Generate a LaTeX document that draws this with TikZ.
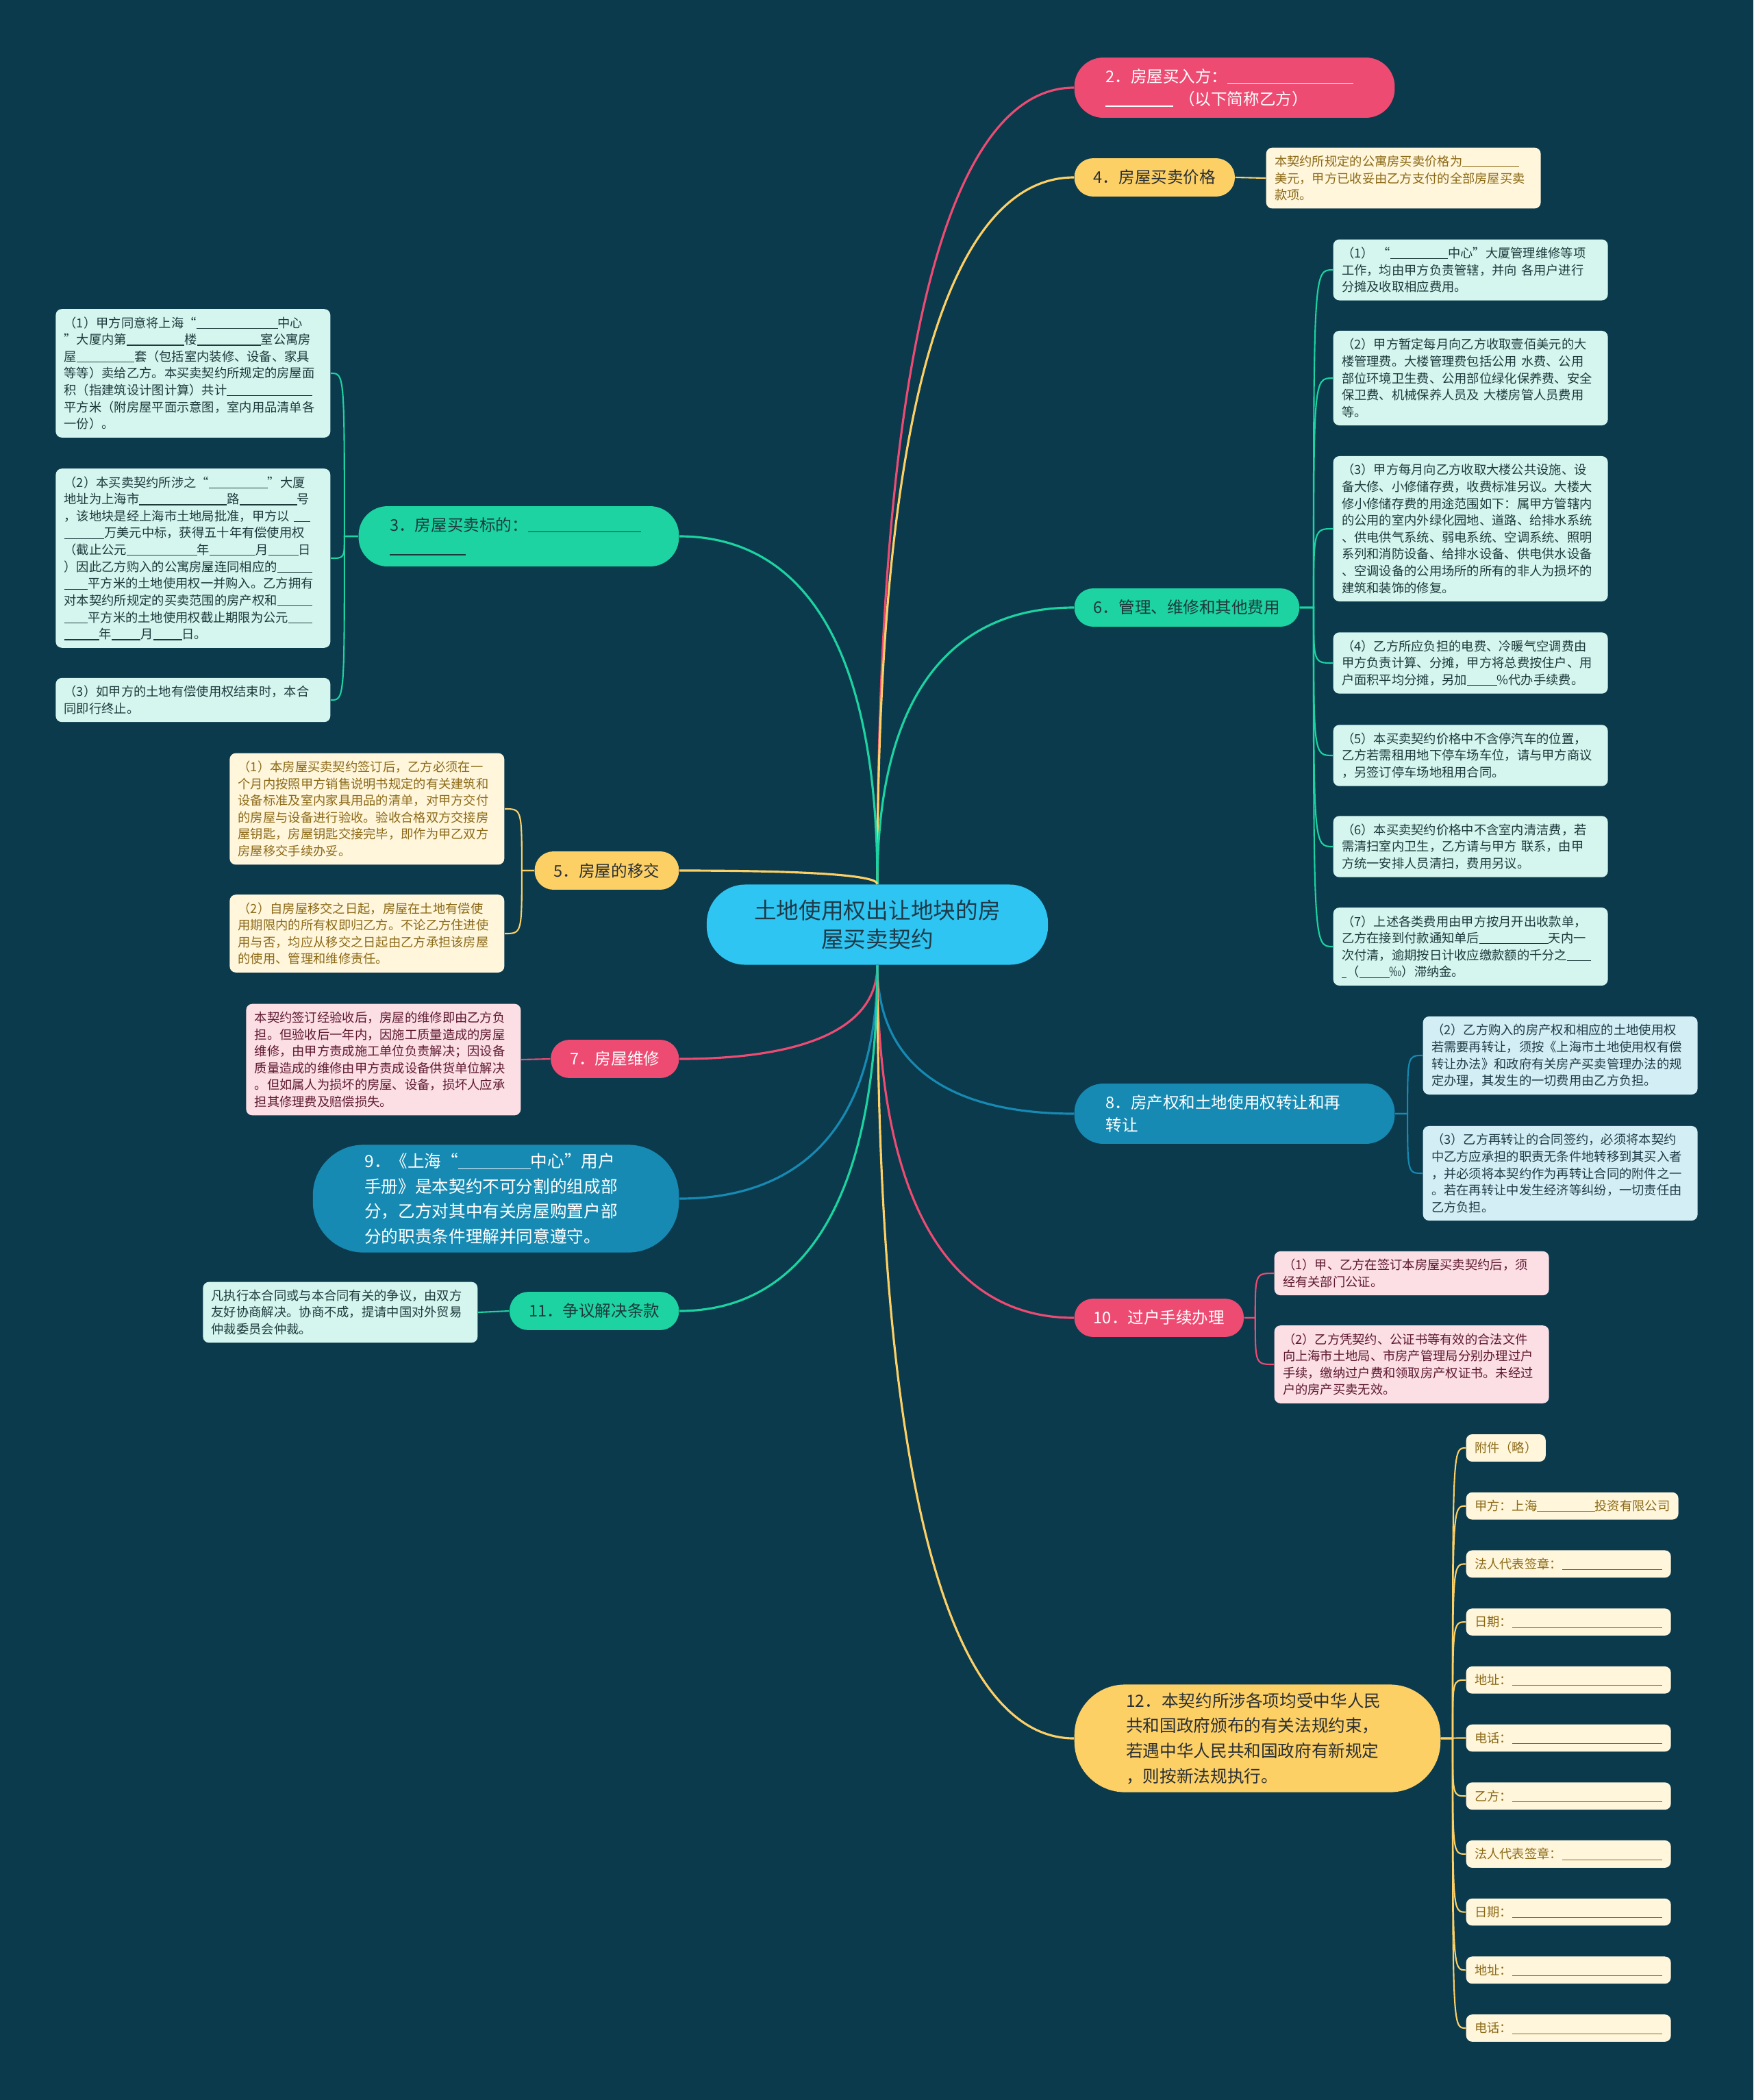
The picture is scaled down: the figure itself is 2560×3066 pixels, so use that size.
\documentclass[tikz,border=0pt]{standalone}
\usepackage{fontspec}
\usetikzlibrary{calc}
\newfontfamily\cjk{Noto Sans CJK SC}

\newcommand\leaffont{\cjk\fontsize{5.2pt}{7pt}\selectfont}
\newcommand\branchfont{\cjk\fontsize{6.7pt}{9.5pt}\selectfont}
\newcommand\bigfont{\cjk\fontsize{7pt}{10.4pt}\selectfont}
\newcommand\rootfont{\cjk\fontsize{9.3pt}{11.9pt}\selectfont}
\newcommand\blank[1]{\rule[-0.1em]{#1em}{0.06em}}

\definecolor{bgc}{HTML}{0B3A4D}
\definecolor{rootc}{HTML}{2EC5F2}
\definecolor{roottx}{HTML}{1E3A48}
\definecolor{pinkc}{HTML}{EE4B73}
\definecolor{yelc}{HTML}{FDD066}
\definecolor{grnc}{HTML}{1CD3A1}
\definecolor{bluc}{HTML}{168AB3}
\definecolor{pinkl}{HTML}{FCDEE5}
\definecolor{yell}{HTML}{FFF6DC}
\definecolor{grnl}{HTML}{D4F6EF}
\definecolor{blul}{HTML}{D3EEF4}
\definecolor{pinkt}{HTML}{5E1A30}
\definecolor{yelt}{HTML}{8C6A17}
\definecolor{grnt}{HTML}{1E3A3C}
\definecolor{blut}{HTML}{1F3B46}
\definecolor{darkt}{HTML}{2A2F33}

\tikzset{
  root/.style={fill=rootc, text=roottx, rounded corners=16pt, minimum width=141.7pt,
    minimum height=33.3pt, align=center, font=\rootfont, inner sep=2pt},
  branch/.style={rounded corners=7.8pt, font=\branchfont, inner xsep=8pt, inner ysep=2pt,
    minimum height=15.9pt, align=left},
  wide/.style={text width=107pt, inner xsep=13pt, minimum height=25pt, rounded corners=12pt},
  tall/.style={text width=109pt, inner xsep=21.5pt, minimum height=44.7pt, rounded corners=21pt, font=\bigfont},
  leaf/.style={rounded corners=2.5pt, font=\leaffont, text width=107pt, inner xsep=3.5pt,
    inner ysep=3.2pt, align=left},
  tag/.style={rounded corners=2.5pt, font=\leaffont, inner xsep=3.5pt, inner ysep=3.2pt},
  redbranch/.style={fill=pinkc, text=white},
  yellowbranch/.style={fill=yelc, text=darkt},
  greenbranch/.style={fill=grnc, text=grnt},
  bluebranch/.style={fill=bluc, text=white},
  redleaf/.style={fill=pinkl, text=pinkt},
  yellowleaf/.style={fill=yell, text=yelt},
  greenleaf/.style={fill=grnl, text=grnt},
  blueleaf/.style={fill=blul, text=blut},
  limb/.style={line width=0.9pt, to path={let \p1=(\tikztostart), \p2=(\tikztotarget) in
    .. controls (\x1,{0.25*\y1+0.75*\y2}) and ({0.55*\x1+0.45*\x2},\y2) .. (\tikztotarget)}},
  twig/.style={line width=0.6pt},
}

\begin{document}
\begin{tikzpicture}[x=0.01cm, y=-0.01cm]
% 背景
\fill[bgc] (0,0) rectangle (2560,3066);

% 中心主题
\node[root] (root) at (1281,1350) {土地使用权出让地块的房\\屋买卖契约};

% 右侧分支
\node[branch, wide, redbranch, anchor=west] (b2) at (1568,128) {2．房屋买入方：\blank{7.8}\\\blank{4.2} （以下简称乙方）};
\node[branch, yellowbranch, anchor=west] (b4) at (1568,259) {4．房屋买卖价格};
\node[branch, greenbranch, anchor=west] (b6) at (1568,887) {6．管理、维修和其他费用};
\node[branch, wide, bluebranch, anchor=west] (b8) at (1568,1626) {8．房产权和土地使用权转让和再\\转让};
\node[branch, redbranch, anchor=west] (b10) at (1568,1924) {10．过户手续办理};
\node[branch, tall, yellowbranch, anchor=west] (b12) at (1568,2538) {12．本契约所涉各项均受中华人民\\共和国政府颁布的有关法规约束，\\若遇中华人民共和国政府有新规定\\，则按新法规执行。};

% 左侧分支
\node[branch, wide, greenbranch, anchor=east] (b3) at (992,783) {3．房屋买卖标的：\blank{7}\\\blank{4.7}};
\node[branch, yellowbranch, anchor=east] (b5) at (992,1271) {5．房屋的移交};
\node[branch, redbranch, anchor=east] (b7) at (992,1546) {7．房屋维修};
\node[branch, tall, bluebranch, anchor=east] (b9) at (992,1750) {9．《上海“\blank{4.3}中心”用户\\手册》是本契约不可分割的组成部\\分，乙方对其中有关房屋购置户部\\分的职责条件理解并同意遵守。};
\node[branch, greenbranch, anchor=east] (b11) at (992,1914) {11．争议解决条款};

% 主干连线
\draw[limb, pinkc] (root.north) to (b2.west);
\draw[limb, yelc] (root.north) to (b4.west);
\draw[limb, grnc] (root.north) to (b6.west);
\draw[limb, grnc] (root.north) to (b3.east);
\draw[limb, yelc] (root.north) to (b5.east);
\draw[limb, bluc] (root.south) to (b8.west);
\draw[limb, pinkc] (root.south) to (b10.west);
\draw[limb, yelc] (root.south) to (b12.west);
\draw[limb, pinkc] (root.south) to (b7.east);
\draw[limb, bluc] (root.south) to (b9.east);
\draw[limb, grnc] (root.south) to (b11.east);

% 分叉点
\coordinate (s3) at ($(b3.west)+(-20,0)$);
\coordinate (s5) at ($(b5.west)+(-18,0)$);
\coordinate (s6) at ($(b6.east)+(20,0)$);
\coordinate (s8) at ($(b8.east)+(18,0)$);
\coordinate (s10) at ($(b10.east)+(16,0)$);
\coordinate (s12) at ($(b12.east)+(17,0)$);

% 4 价格
\node[leaf, yellowleaf, anchor=west] (l4) at (1848,260) {本契约所规定的公寓房买卖价格为\blank{4.5}\\美元，甲方已收妥由乙方支付的全部房屋买卖\\款项。};
\draw[twig, yelc] (b4.east) -- (l4.west);

% 6 管理费用
\node[leaf, greenleaf, anchor=west] (l61) at (1946,394) {（1） “\blank{4.6}中心”大厦管理维修等项\\工作，均由甲方负责管辖，并向 各用户进行\\分摊及收取相应费用。};
\node[leaf, greenleaf, anchor=west] (l62) at (1946,552) {（2）甲方暂定每月向乙方收取壹佰美元的大\\楼管理费。大楼管理费包括公用 水费、公用\\部位环境卫生费、公用部位绿化保养费、安全\\保卫费、机械保养人员及 大楼房管人员费用\\等。};
\node[leaf, greenleaf, anchor=west] (l63) at (1946,772) {（3）甲方每月向乙方收取大楼公共设施、设\\备大修、小修储存费，收费标准另议。大楼大\\修小修储存费的用途范围如下：属甲方管辖内\\的公用的室内外绿化园地、道路、给排水系统\\、供电供气系统、弱电系统、空调系统、照明\\系列和消防设备、给排水设备、供电供水设备\\、空调设备的公用场所的所有的非人为损坏的\\建筑和装饰的修复。};
\node[leaf, greenleaf, anchor=west] (l64) at (1946,968) {（4）乙方所应负担的电费、冷暖气空调费由\\甲方负责计算、分摊，甲方将总费按住户、用\\户面积平均分摊，另加\blank{2.4}\%代办手续费。};
\node[leaf, greenleaf, anchor=west] (l65) at (1946,1103) {（5）本买卖契约价格中不含停汽车的位置，\\乙方若需租用地下停车场车位，请与甲方商议\\，另签订停车场地租用合同。};
\node[leaf, greenleaf, anchor=west] (l66) at (1946,1236) {（6）本买卖契约价格中不含室内清洁费，若\\需清扫室内卫生，乙方请与甲方 联系，由甲\\方统一安排人员清扫，费用另议。};
\node[leaf, greenleaf, anchor=west] (l67) at (1946,1382) {（7）上述各类费用由甲方按月开出收款单，\\乙方在接到付款通知单后\blank{5.5}天内一\\次付清，逾期按日计收应缴款额的千分之\blank{1.9}\\\blank{0.4}（\blank{2.4}‰）滞纳金。};
\foreach \l in {l61,l62,l63,l64,l65,l66,l67}
  \draw[twig, grnc] (b6.east) -- (s6) .. controls (s6 |- \l.west) .. (\l.west);

% 8 转让
\node[leaf, blueleaf, anchor=west] (l82) at (2077,1541) {（2）乙方购入的房产权和相应的土地使用权\\若需要再转让，须按《上海市土地使用权有偿\\转让办法》和政府有关房产买卖管理办法的规\\定办理，其发生的一切费用由乙方负担。};
\node[leaf, blueleaf, anchor=west] (l83) at (2077,1713) {（3）乙方再转让的合同签约，必须将本契约\\中乙方应承担的职责无条件地转移到其买入者\\，并必须将本契约作为再转让合同的附件之一\\。若在再转让中发生经济等纠纷，一切责任由\\乙方负担。};
\foreach \l in {l82,l83}
  \draw[twig, bluc] (b8.east) -- (s8) .. controls (s8 |- \l.west) .. (\l.west);

% 10 过户
\node[leaf, redleaf, anchor=west] (l101) at (1860,1859) {（1）甲、乙方在签订本房屋买卖契约后，须\\经有关部门公证。};
\node[leaf, redleaf, anchor=west] (l102) at (1860,1992) {（2）乙方凭契约、公证书等有效的合法文件\\向上海市土地局、市房产管理局分别办理过户\\手续，缴纳过户费和领取房产权证书。未经过\\户的房产买卖无效。};
\foreach \l in {l101,l102}
  \draw[twig, pinkc] (b10.east) -- (s10) .. controls (s10 |- \l.west) .. (\l.west);

% 12 签章
\foreach \t [count=\i] in {附件（略）, 甲方：上海\blank{4.6}投资有限公司, 法人代表签章：\blank{8}, 日期：\blank{12}, 地址：\blank{12}, 电话：\blank{12}, 乙方：\blank{12}, 法人代表签章：\blank{8}, 日期：\blank{12}, 地址：\blank{12}, 电话：\blank{12}}
  \node[tag, yellowleaf, anchor=west] (q\i) at (2140,{2114+84.7*(\i-1)}) {\t};
\foreach \i in {1,...,11}
  \draw[twig, yelc] (b12.east) -- (s12) .. controls (s12 |- q\i.west) .. (q\i.west);

% 3 标的
\node[leaf, greenleaf, anchor=east] (l31) at (483,545) {（1）甲方同意将上海“\blank{6.5}中心\\”大厦内第\blank{4.6}楼\blank{5.1}室公寓房\\屋\blank{4.6}套（包括室内装修、设备、家具\\等等）卖给乙方。本买卖契约所规定的房屋面\\积（指建筑设计图计算）共计\blank{6.8}\\平方米（附房屋平面示意图，室内用品清单各\\一份）。};
\node[leaf, greenleaf, anchor=east] (l32) at (483,815) {（2）本买卖契约所涉之“\blank{4.7}”大厦\\地址为上海市\blank{7}路\blank{4.6}号\\，该地块是经上海市土地局批准，甲方以 \blank{1.3}\\\blank{3.2}万美元中标，获得五十年有偿使用权\\（截止公元\blank{5.6}年\blank{3.7}月\blank{2.4}日\\）因此乙方购入的公寓房屋连同相应的\blank{2.8}\\\blank{1.9}平方米的土地使用权一并购入。乙方拥有\\对本契约所规定的买卖范围的房产权和\blank{2.8}\\\blank{1.9}平方米的土地使用权截止期限为公元\blank{1.9}\\\blank{2.8}年\blank{2.3}月\blank{2.3}日。};
\node[leaf, greenleaf, anchor=east] (l33) at (483,1022) {（3）如甲方的土地有偿使用权结束时，本合\\同即行终止。};
\foreach \l in {l31,l32,l33}
  \draw[twig, grnc] (b3.west) -- (s3) .. controls (s3 |- \l.east) .. (\l.east);

% 5 移交
\node[leaf, yellowleaf, anchor=east] (l51) at (737,1181) {（1）本房屋买卖契约签订后，乙方必须在一\\个月内按照甲方销售说明书规定的有关建筑和\\设备标准及室内家具用品的清单，对甲方交付\\的房屋与设备进行验收。验收合格双方交接房\\屋钥匙，房屋钥匙交接完毕，即作为甲乙双方\\房屋移交手续办妥。};
\node[leaf, yellowleaf, anchor=east] (l52) at (737,1363) {（2）自房屋移交之日起，房屋在土地有偿使\\用期限内的所有权即归乙方。不论乙方住进使\\用与否，均应从移交之日起由乙方承担该房屋\\的使用、管理和维修责任。};
\foreach \l in {l51,l52}
  \draw[twig, yelc] (b5.west) -- (s5) .. controls (s5 |- \l.east) .. (\l.east);

% 7 维修
\node[leaf, redleaf, anchor=east] (l7) at (761,1547) {本契约签订经验收后，房屋的维修即由乙方负\\担。但验收后一年内，因施工质量造成的房屋\\维修，由甲方责成施工单位负责解决；因设备\\质量造成的维修由甲方责成设备供货单位解决\\。但如属人为损坏的房屋、设备，损坏人应承\\担其修理费及赔偿损失。};
\draw[twig, pinkc] (b7.west) -- (l7.east);

% 11 争议
\node[leaf, greenleaf, anchor=east] (l11) at (698,1916) {凡执行本合同或与本合同有关的争议，由双方\\友好协商解决。协商不成，提请中国对外贸易\\仲裁委员会仲裁。};
\draw[twig, grnc] (b11.west) -- (l11.east);
\end{tikzpicture}
\end{document}
